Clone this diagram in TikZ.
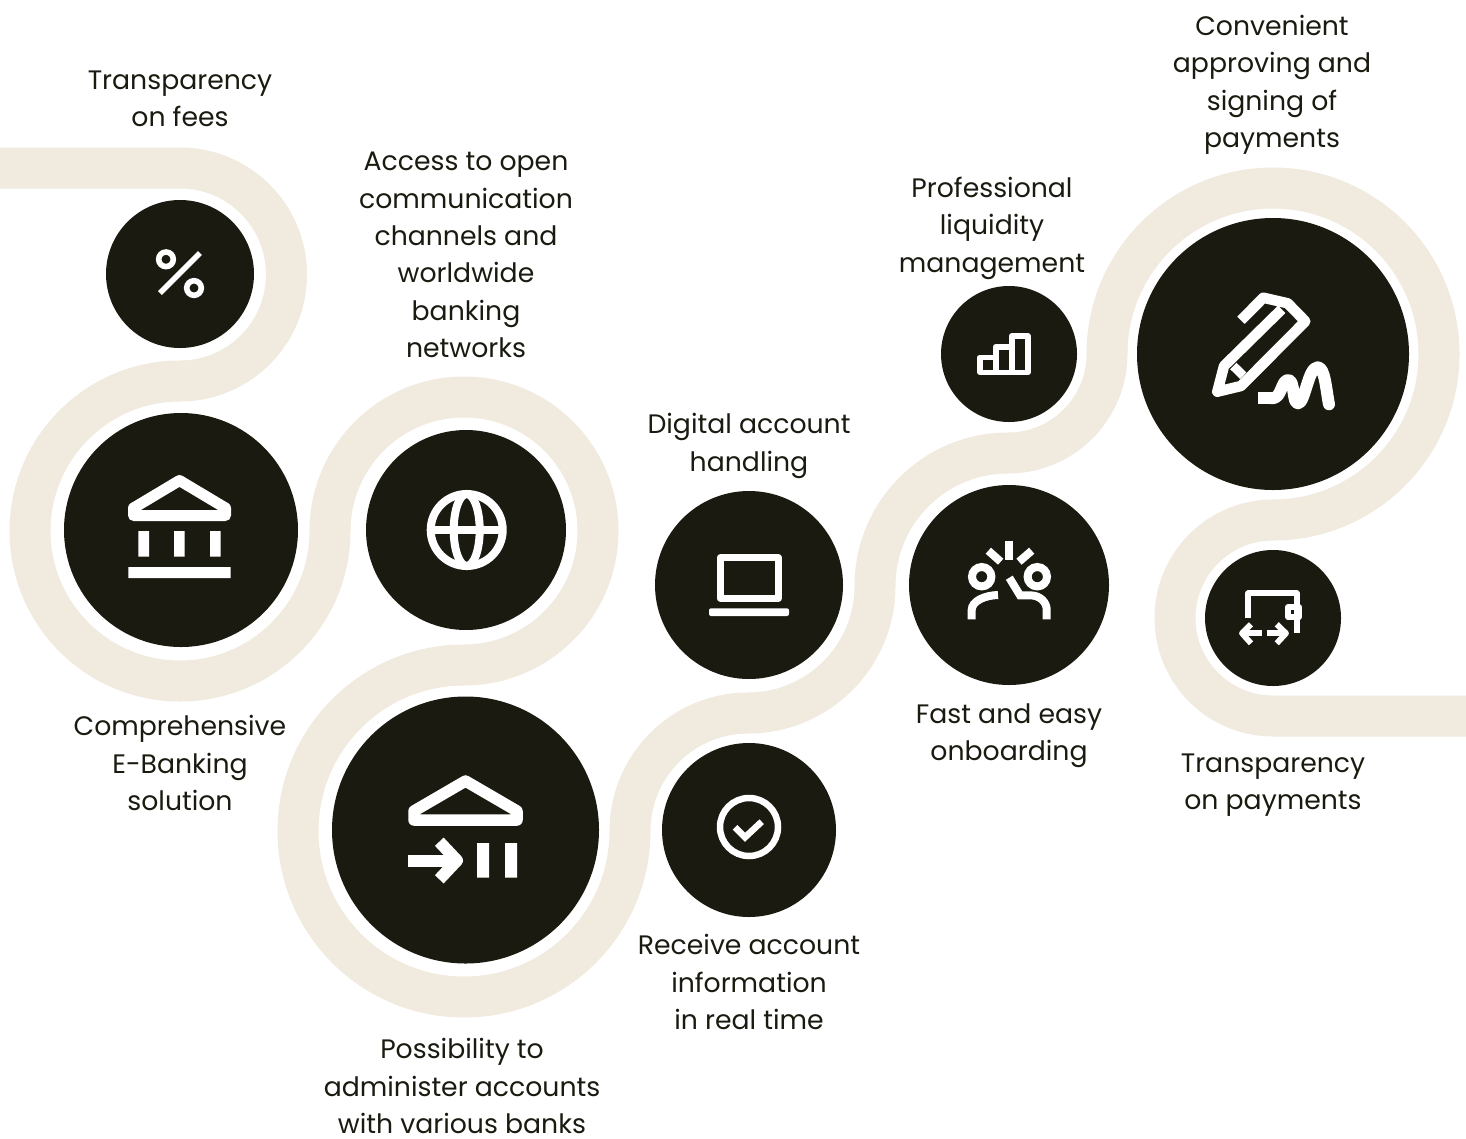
\documentclass[tikz,border=0pt]{standalone}
\usepackage{fontspec}
\setmainfont{Poppins}
\definecolor{ribboncol}{HTML}{F0EADF}
\definecolor{darkcol}{HTML}{1A1A10}
\tikzset{
  ribbon/.style={draw=ribboncol,line width=41pt,line cap=butt,line join=round},
  disc/.style={circle,fill=darkcol,draw=none,inner sep=0pt,outer sep=0pt},
  lbl/.style={text=darkcol,align=center,inner sep=0pt,font=\fontsize{26.7}{37.4}\selectfont},
  ico/.style={draw=white,line cap=butt,line join=miter},
  icofill/.style={fill=white,draw=none},
  rnd/.style={draw=white,line join=round,line cap=butt}
}
\begin{document}
\begin{tikzpicture}[x=1pt,y=-1pt]
\useasboundingbox (0,0) rectangle (1466,1138);
% ribbon
\coordinate (rs) at (0,168);
\coordinate (re) at (1466,716);
\draw[ribbon] (rs) -- (180,168)
  arc[start angle=-90,end angle=90,x radius=106.5,y radius=106.5]
  arc[start angle=270,end angle=0,x radius=150,y radius=150]
  arc[start angle=180,end angle=450,x radius=134,y radius=134]
  arc[start angle=270,end angle=0,x radius=166,y radius=166]
  arc[start angle=180,end angle=270,x radius=118,y radius=118]
  arc[start angle=90,end angle=0,x radius=127,y radius=127]
  arc[start angle=180,end angle=270,x radius=133,y radius=133]
  arc[start angle=90,end angle=0,x radius=99,y radius=99]
  arc[start angle=180,end angle=450,x radius=166,y radius=166]
  arc[start angle=270,end angle=90,x radius=98,y radius=98]
  -- (re);
% discs
\node[disc,minimum size=148pt] (fees) at (180,274) {};
\node[disc,minimum size=234pt] (ebank) at (181,530) {};
\node[disc,minimum size=200pt] (globe) at (466,530) {};
\node[disc,minimum size=188pt] (laptop) at (749,585) {};
\node[disc,minimum size=174pt] (check) at (749,830) {};
\node[disc,minimum size=267pt] (admin) at (465.5,830) {};
\node[disc,minimum size=200pt] (board) at (1009,585) {};
\node[disc,minimum size=136pt] (liq) at (1009,354) {};
\node[disc,minimum size=272pt] (sign) at (1273,354) {};
\node[disc,minimum size=136pt] (pay) at (1273,618) {};
% labels
\node[lbl] (t1) at (180,99) {Transparency\\on fees};
\node[lbl] (t2) at (466,255) {Access to open\\communication\\channels and\\worldwide\\banking\\networks};
\node[lbl] (t3) at (1272,85) {Convenient\\approving and\\signing of\\payments};
\node[lbl] (t4) at (992,228) {Professional\\liquidity\\management};
\node[lbl] (t5) at (749,446) {Digital account\\handling};
\node[lbl] (t6) at (180,763) {Comprehensive\\E-Banking\\solution};
\node[lbl] (t7) at (1009,735.5) {Fast and easy\\onboarding};
\node[lbl] (t8) at (1273,785) {Transparency\\on payments};
\node[lbl] (t9) at (749,982) {Receive account\\information\\in real time};
\node[lbl] (t10) at (462,1086) {Possibility to\\administer accounts\\with various banks};
% percent icon
\draw[draw=white,line width=5.6pt] (166,259.3) circle[radius=7.3] (194,288) circle[radius=7.3];
\draw[ico,line width=5.5pt] (200,253) -- (160,293);
% bank icon
\draw[rnd,line width=11pt] (179.5,480.5) -- (225.5,508) -- (225.5,515.5) -- (133.5,515.5) -- (133.5,508) -- cycle;
\fill[icofill] (138.3,531) rectangle (149,556.7) (174,531) rectangle (184.7,556.7) (210,531) rectangle (220.7,556.7) (128.3,567) rectangle (230.7,578);
% globe
\begin{scope}[draw=white,line width=8pt]
\draw (466.7,530) circle[radius=36];
\draw (466.7,530) ellipse[x radius=13,y radius=36];
\draw (432,530) -- (502,530);
\end{scope}
% laptop
\draw[rnd,line width=7pt] (720.2,557.8) rectangle (778.2,598.2);
\draw[icofill,fill=white,rounded corners=2pt] (709,608.3) -- (789,608.3) -- (789,616) -- (709,616) -- cycle;
% check
\draw[draw=white,line width=6.5pt] (749,827) circle[radius=29];
\draw[ico,line width=6.5pt] (735,827.3) -- (745,837.3) -- (761.7,821.7);
% admin icon
\draw[rnd,line width=11.5pt] (465.5,781) -- (517,811) -- (517,820) -- (414,820) -- (414,811) -- cycle;
\draw[ico,line width=12pt] (408.3,860.5) -- (456,860.5);
\draw[rnd,line width=12pt] (439.3,841.7) -- (457,860.5) -- (439.3,879.3);
\fill[icofill] (477,843) rectangle (489,877.7) (505,843) rectangle (517,877.7);
% onboarding icon
\begin{scope}[ico,line width=8pt]
\draw (1008.8,541) -- (1008.8,560);
\draw (988.3,550.7) -- (1000.7,561.7);
\draw (1031.7,550.7) -- (1019,561.7);
\draw (981.7,576.7) circle[radius=9.7];
\draw (1037.3,576.7) circle[radius=9.7];
\draw (971.7,619.3) -- (971.7,610) .. controls (971.7,601) and (985,595.3) .. (998,595);
\draw (1009.3,577.7) -- (1020,595.3) -- (1030,595.3) .. controls (1040,595.3) and (1046.7,602) .. (1046.7,610) -- (1046.7,619.3);
\end{scope}
% liquidity icon
\draw[rnd,line width=5.6pt] (980,372.3) -- (980,357.3) -- (995.7,357.3) -- (995.7,346.7) -- (1011.7,346.7) -- (1011.7,336) -- (1028,336) -- (1028,372.3) -- cycle;
\draw[ico,line width=5.6pt] (995.7,357.3) -- (995.7,372.3) (1011.7,346.7) -- (1011.7,372.3);
% sign icon
\draw[rnd,line width=10.5pt] (1241,320.3) -- (1263.3,297.7) -- (1287.7,303.3) -- (1305.3,321.3) -- (1241,386) -- (1217.3,391.7) -- (1224,366) -- (1281.7,309.3);
\draw[ico,line width=9pt] (1233.3,366) -- (1243.3,375.7);
\draw[ico,line width=12pt] (1258.3,398.3) -- (1272,398.3);
\draw[draw=white,line width=12pt,line cap=round,line join=round] (1272,398.3) .. controls (1282,398.3) and (1281,380) .. (1288.3,380) .. controls (1295,380) and (1292,403.3) .. (1298,403.3) .. controls (1305,403.3) and (1308,367.3) .. (1317.7,367.3) .. controls (1325,367.3) and (1326,390) .. (1329,404.3);
% payments icon
\begin{scope}[rnd,line width=5.8pt]
\draw (1248.3,617.7) -- (1248.3,593.3) -- (1296.7,593.3) -- (1296.7,633.3);
\draw (1288.3,607) rectangle (1299,617.3);
\draw (1251,624.3) -- (1242,633.3) -- (1251,643.3);
\draw (1242,633.3) -- (1261.7,633.3);
\draw (1266.7,633.3) -- (1286,633.3);
\draw (1276.7,624.3) -- (1286,633.3) -- (1276.7,643.3);
\end{scope}
\end{tikzpicture}
\end{document}
